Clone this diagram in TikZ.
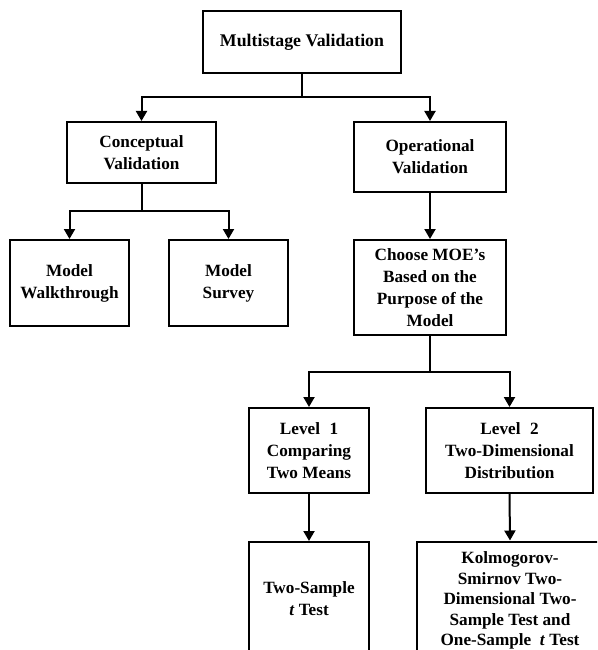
\documentclass[tikz,border=0pt]{standalone}
\usepackage{fontspec}
\setmainfont{Liberation Serif}
\usetikzlibrary{arrows.meta}
\begin{document}
\begin{tikzpicture}[x=1pt,y=-1pt,
  box/.style={draw=black, line width=2pt, fill=white, inner sep=0pt, align=center,
    font=\bfseries\fontsize{17.2}{22}\selectfont},
  link/.style={draw=black, line width=2pt},
  arr/.style={link, -{Triangle[width=11pt,length=10pt]}}]
\useasboundingbox (0,0) rectangle (597,650);
\fill[white] (0,0) rectangle (597,650);
\clip (0,0) rectangle (597,650);

\node[box, minimum width=198pt, minimum height=62pt, font=\bfseries\fontsize{17.8}{22}\selectfont] (top) at (302,42) {Multistage Validation};
\node[box, minimum width=149pt, minimum height=61pt] (concept) at (141.5,152.5) {Conceptual\\Validation};
\node[box, minimum width=152pt, minimum height=70pt] (oper) at (430,157) {Operational\\Validation};
\node[box, minimum width=119pt, minimum height=86pt] (walk) at (69.5,283) {Model\\Walkthrough};
\node[box, minimum width=119pt, minimum height=86pt] (survey) at (228.5,283) {Model\\Survey};
\node[box, minimum width=152pt, minimum height=95pt] (choose) at (430,287.5) {Choose MOE’s\\Based on the\\Purpose of the\\Model};
\node[box, minimum width=120pt, minimum height=85pt] (lev1) at (309,450.5) {Level\hspace{0.55em}1\\Comparing\\Two Means};
\node[box, minimum width=167pt, minimum height=85pt] (lev2) at (509.5,450.5) {Level\hspace{0.55em}2\\Two-Dimensional\\Distribution};
\node[box, minimum width=120pt, minimum height=113pt] (twos) at (309,598.5) {Two-Sample\\\textit{t} Test};
\node[box, minimum width=186pt, minimum height=118pt, font=\bfseries\fontsize{17.2}{20.5}\selectfont] (kolm) at (510,600.5) {Kolmogorov-\\Smirnov Two-\\Dimensional Two-\\Sample Test and\\One-Sample\hspace{0.5em}\textit{t} Test};

\coordinate (j1) at (302,97);
\coordinate (j2) at (141.5,211);
\coordinate (j3) at (430,372);

\draw[link] (top.south) -- (top.south |- j1);
\draw[arr] (top.south |- j1) -| (concept.north);
\draw[arr] (top.south |- j1) -| (oper.north);

\draw[link] (concept.south) -- (concept.south |- j2);
\draw[arr] (concept.south |- j2) -| (walk.north);
\draw[arr] (concept.south |- j2) -| (survey.north);

\draw[arr] (oper.south) -- (choose.north);

\draw[link] (choose.south) -- (choose.south |- j3);
\draw[arr] (choose.south |- j3) -| (lev1.north);
\draw[arr] (choose.south |- j3) -| (lev2.north);

\draw[arr] (lev1.south) -- (twos.north);
\draw[arr] (lev2.south) -- (kolm.north);
\end{tikzpicture}
\end{document}
